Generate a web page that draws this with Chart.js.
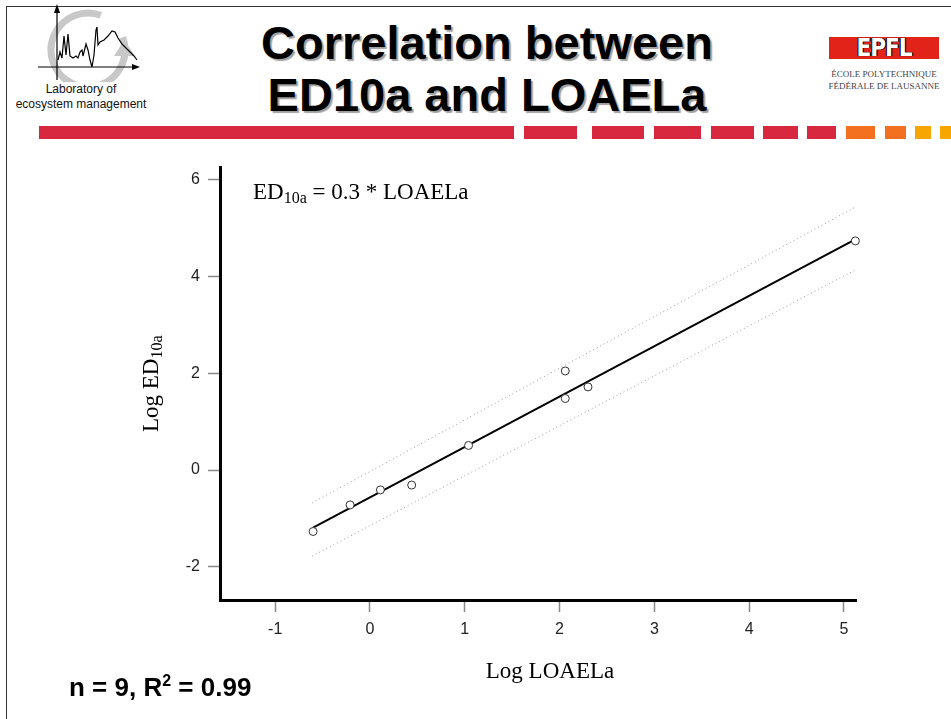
<!DOCTYPE html>
<html>
<head>
<meta charset="utf-8">
<script src="https://cdn.jsdelivr.net/npm/chart.js@4/dist/chart.umd.min.js"></script>
<style>
body { margin: 0; background: #fff; width: 951px; height: 719px; overflow: hidden; position: relative; font-family: "Liberation Sans", Arial, sans-serif; }
.abs { position: absolute; }
#frameTop { left: 6px; top: 6px; width: 945px; height: 1px; background: #333; }
#frameLeft { left: 6px; top: 6px; width: 1px; height: 713px; background: #333; }
#lab { left: 0; top: 82px; width: 162px; text-align: center; font-size: 12px; line-height: 15px; color: #111; }
#title { left: 230px; top: 17px; width: 514px; text-align: center; font-weight: bold; font-size: 47px; line-height: 52px; color: #000; text-shadow: 2px 2px 1px #a0a0a0; }
#epfl { left: 829px; top: 37px; width: 110px; height: 22px; background: #e2231a; }
#epflTxt { left: 829px; top: 35px; width: 110px; text-align: center; font-family: "DejaVu Sans Condensed", "Liberation Sans Narrow", sans-serif; font-weight: bold; font-size: 24px; line-height: 26px; color: #fff; letter-spacing: -1px; text-shadow: 0 0 1px #000, 1px 0 0 #000, -1px 0 0 #000; }
#epflSub { left: 826px; top: 68px; width: 116px; text-align: center; font-family: "Liberation Serif", serif; font-size: 9px; line-height: 12px; color: #444; }
.st { position: absolute; top: 126px; height: 13px; }
#stats { left: 69px; top: 674px; font-weight: bold; font-size: 26px; line-height: 26px; color: #000; }
#stats sup { font-size: 16px; vertical-align: 10px; line-height: 0; }
#wrap { position: absolute; left: 0; top: 150px; width: 951px; height: 569px; }
</style>
</head>
<body>
<div class="abs" id="frameTop"></div>
<div class="abs" id="frameLeft"></div>

<svg class="abs" style="left:0;top:0" width="160" height="82">
  <circle cx="88" cy="50" r="37" fill="none" stroke="#c8c8c8" stroke-width="7" stroke-dasharray="200 32" transform="rotate(-20 88 50)"/>
  <polygon points="114,56 135,56 124,40" fill="#c8c8c8"/>
  <line x1="57" y1="80" x2="57" y2="9" stroke="#000" stroke-width="1.2"/>
  <polygon points="54,13 60,13 57,4" fill="#000"/>
  <line x1="38" y1="67" x2="134" y2="67" stroke="#000" stroke-width="1.2"/>
  <polygon points="132,64 132,70 140,67" fill="#000"/>
  <polyline fill="none" stroke="#000" stroke-width="1.2" points="58,60 60,52 62,58 64,36 66,55 68,34 70,56 73,58 76,56 78,58 80,52 82,50 83,56 86,44 88,50 90,60 92,67 94,55 96,30 97,27 98,45 100,42 104,40 108,36 112,31 115,32 118,38 122,44 126,48 130,52 134,56 137,60"/>
</svg>
<div class="abs" id="lab">Laboratory of<br>ecosystem management</div>

<div class="abs" id="title">Correlation between<br>ED10a and LOAELa</div>

<div class="abs" id="epfl"></div>
<div class="abs" id="epflTxt">EPFL</div>
<div class="abs" id="epflSub">ÉCOLE POLYTECHNIQUE<br>FÉDÉRALE DE LAUSANNE</div>

<div class="st" style="left:39px;width:475px;background:#d7283f"></div>
<div class="st" style="left:524px;width:53px;background:#d7283f"></div>
<div class="st" style="left:592px;width:52px;background:#d7283f"></div>
<div class="st" style="left:654px;width:47px;background:#d7283f"></div>
<div class="st" style="left:711px;width:43px;background:#d7283f"></div>
<div class="st" style="left:763px;width:35px;background:#d7283f"></div>
<div class="st" style="left:807px;width:29px;background:#d7283f"></div>
<div class="st" style="left:846px;width:29px;background:#f37021"></div>
<div class="st" style="left:885px;width:21px;background:#f37021"></div>
<div class="st" style="left:915px;width:16px;background:#f7a600"></div>
<div class="st" style="left:940px;width:11px;background:#f7a600"></div>

<div id="wrap"><canvas id="c" width="951" height="569"></canvas></div>

<div class="abs" id="stats">n = 9, R<sup>2</sup> = 0.99</div>

<script>
// measured values (log scale)
const loaelX = [-0.60, -0.21, 0.11, 0.44, 1.04, 2.06, 2.06, 2.30, 5.12];
const ed10Y = [-1.27, -0.72, -0.41, -0.31, 0.51, 2.05, 1.48, 1.72, 4.74];
// regression line and the dotted bands
const fitX = [-0.60, 5.11];
const fitY = [-1.19, 4.76];
const bandX = [-0.61, 5.12];
const upperY = [-0.68, 5.44];
const lowerY = [-1.78, 4.14];
// axis ticks
const xTicks = [-1, 0, 1, 2, 3, 4, 5];
const yTicks = [-2, 0, 2, 4, 6];

const serif = '"Liberation Serif", "Times New Roman", serif';
const sans = '"Liberation Sans", Arial, sans-serif';

function pairs(xs, ys) {
    return xs.map((x, i) => ({ x: x, y: ys[i] }));
}

// draws text pieces side by side, some of them as subscripts
function drawParts(ctx, x, y, parts) {
    parts.forEach(p => {
        ctx.font = p[1] + 'px ' + serif;
        ctx.fillText(p[0], x, y + p[2]);
        x += ctx.measureText(p[0]).width;
    });
}
function partsWidth(ctx, parts) {
    let w = 0;
    parts.forEach(p => {
        ctx.font = p[1] + 'px ' + serif;
        w += ctx.measureText(p[0]).width;
    });
    return w;
}

const textPlugin = {
    id: 'textPlugin',
    afterDraw(chart) {
        const ctx = chart.ctx;
        const a = chart.chartArea;
        ctx.save();
        ctx.fillStyle = '#000';
        ctx.textBaseline = 'alphabetic';
        // equation inside the plot
        drawParts(ctx, a.left + 33, a.top + 31, [['ED', 23, 0], ['10a', 16, 4], [' = 0.3 * LOAELa', 23, 0]]);
        // x axis title
        const xt = [['Log LOAELa', 23, 0]];
        drawParts(ctx, 550 - partsWidth(ctx, xt) / 2, a.bottom + 78, xt);
        // y axis title
        const parts = [['Log ED', 23, 0], ['10a', 16, 4]];
        const w = partsWidth(ctx, parts);
        ctx.translate(158, (a.top + a.bottom) / 2);
        ctx.rotate(-Math.PI / 2);
        drawParts(ctx, -w / 2, 0, parts);
        ctx.restore();
    }
};

new Chart(document.getElementById('c'), {
    type: 'scatter',
    data: {
        datasets: [
            {
                type: 'line',
                data: pairs(bandX, upperY),
                borderColor: '#9a9a9a',
                borderWidth: 1,
                borderDash: [1, 3],
                pointRadius: 0,
                order: 3
            },
            {
                type: 'line',
                data: pairs(bandX, lowerY),
                borderColor: '#9a9a9a',
                borderWidth: 1,
                borderDash: [1, 3],
                pointRadius: 0,
                order: 3
            },
            {
                type: 'line',
                data: pairs(fitX, fitY),
                borderColor: '#000',
                borderWidth: 2,
                pointRadius: 0,
                order: 2
            },
            {
                data: pairs(loaelX, ed10Y),
                pointRadius: 4,
                pointStyle: 'circle',
                borderColor: '#333',
                borderWidth: 1,
                backgroundColor: '#fff',
                clip: false,
                order: 1
            }
        ]
    },
    options: {
        responsive: false,
        animation: false,
        layout: { padding: { left: 140, top: 14, right: 95, bottom: 35 } },
        plugins: {
            legend: { display: false },
            tooltip: { enabled: false }
        },
        scales: {
            x: {
                type: 'linear',
                min: -1.582,
                max: 5.127,
                afterBuildTicks: s => { s.ticks = xTicks.map(v => ({ value: v })); },
                afterFit: s => { s.height = 84; },
                border: { display: true, color: '#000', width: 3 },
                grid: { drawOnChartArea: false, tickLength: 12, tickColor: '#888', tickWidth: 1.5 },
                ticks: { font: { family: sans, size: 16 }, color: '#222', padding: 8 }
            },
            y: {
                type: 'linear',
                min: -2.687,
                max: 6.256,
                afterBuildTicks: s => { s.ticks = yTicks.map(v => ({ value: v })); },
                afterFit: s => { s.width = 80; },
                border: { display: true, color: '#000', width: 3 },
                grid: { drawOnChartArea: false, tickLength: 12, tickColor: '#888', tickWidth: 1.5 },
                ticks: { font: { family: sans, size: 16 }, color: '#222', padding: 8 }
            }
        }
    },
    plugins: [textPlugin]
});
</script>
</body>
</html>
